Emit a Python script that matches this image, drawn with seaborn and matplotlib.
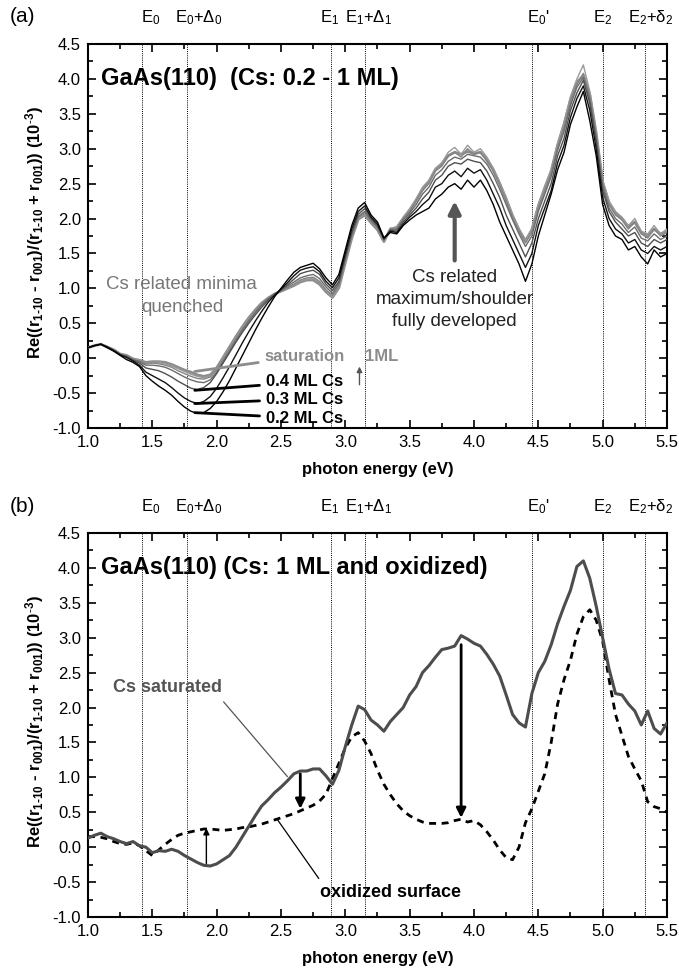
import matplotlib
matplotlib.use("Agg")
import matplotlib.pyplot as plt
import seaborn as sns
from matplotlib.ticker import MultipleLocator, FormatStrFormatter
from matplotlib.transforms import blended_transform_factory

sns.set_style("ticks")
plt.rcParams["font.family"] = ["Liberation Sans", "DejaVu Sans"]
plt.rcParams["mathtext.default"] = "regular"
plt.rcParams["axes.unicode_minus"] = False
plt.rcParams["text.color"] = "black"
plt.rcParams["axes.labelcolor"] = "black"

# photon energy grid (eV)
ENERGY = [
    1.00, 1.05, 1.10, 1.15, 1.20, 1.25, 1.30, 1.35, 1.40, 1.45, 1.50, 1.55, 1.60,
    1.65, 1.70, 1.75, 1.80, 1.85, 1.90, 1.95, 2.00, 2.05, 2.10, 2.15, 2.20, 2.25,
    2.30, 2.35, 2.40, 2.45, 2.50, 2.55, 2.60, 2.65, 2.70, 2.75, 2.80, 2.85, 2.90,
    2.95, 3.00, 3.05, 3.10, 3.15, 3.20, 3.25, 3.30, 3.35, 3.40, 3.45, 3.50, 3.55,
    3.60, 3.65, 3.70, 3.75, 3.80, 3.85, 3.90, 3.95, 4.00, 4.05, 4.10, 4.15, 4.20,
    4.25, 4.30, 4.35, 4.40, 4.45, 4.50, 4.55, 4.60, 4.65, 4.70, 4.75, 4.80, 4.85,
    4.90, 4.95, 5.00, 5.05, 5.10, 5.15, 5.20, 5.25, 5.30, 5.35, 5.40, 5.45, 5.50,
]

# (a) Cs coverage series, 0.2 ML -> saturation
CS_02 = [
    0.15, 0.18, 0.20, 0.15, 0.10, 0.04, -0.02, -0.06,
    -0.12, -0.25, -0.33, -0.40, -0.46, -0.53, -0.62, -0.70,
    -0.76, -0.79, -0.78, -0.72, -0.62, -0.48, -0.32, -0.14,
    0.04, 0.22, 0.40, 0.57, 0.73, 0.88, 1.00, 1.12,
    1.23, 1.30, 1.33, 1.36, 1.28, 1.15, 1.05, 1.20,
    1.55, 1.90, 2.15, 2.23, 2.05, 1.95, 1.72, 1.80,
    1.78, 1.90, 1.98, 2.05, 2.10, 2.15, 2.28, 2.35,
    2.45, 2.50, 2.42, 2.55, 2.45, 2.55, 2.40, 2.20,
    1.95, 1.75, 1.55, 1.35, 1.10, 1.35, 1.75, 2.05,
    2.35, 2.70, 2.95, 3.35, 3.60, 3.82, 3.40, 2.90,
    2.20, 1.90, 1.75, 1.70, 1.55, 1.60, 1.45, 1.35,
    1.55, 1.45, 1.50,
]
CS_03 = [
    0.15, 0.18, 0.20, 0.16, 0.11, 0.05, 0.01, -0.04,
    -0.10, -0.20, -0.25, -0.30, -0.35, -0.42, -0.50, -0.57,
    -0.62, -0.65, -0.62, -0.55, -0.43, -0.28, -0.12, 0.05,
    0.22, 0.38, 0.53, 0.67, 0.80, 0.90, 0.99, 1.08,
    1.18, 1.26, 1.29, 1.31, 1.24, 1.10, 1.01, 1.15,
    1.50, 1.85, 2.10, 2.18, 2.02, 1.92, 1.72, 1.82,
    1.80, 1.92, 2.02, 2.10, 2.20, 2.28, 2.45, 2.50,
    2.62, 2.68, 2.60, 2.72, 2.65, 2.70, 2.55, 2.35,
    2.15, 1.90, 1.70, 1.50, 1.30, 1.50, 1.90, 2.15,
    2.40, 2.80, 3.05, 3.45, 3.72, 3.90, 3.55, 3.00,
    2.30, 2.00, 1.85, 1.78, 1.65, 1.70, 1.55, 1.50,
    1.60, 1.55, 1.60,
]
CS_04 = [
    0.15, 0.18, 0.20, 0.16, 0.11, 0.05, 0.02, -0.03,
    -0.07, -0.14, -0.16, -0.18, -0.22, -0.27, -0.33, -0.38,
    -0.43, -0.45, -0.42, -0.35, -0.22, -0.07, 0.08, 0.23,
    0.37, 0.50, 0.62, 0.73, 0.83, 0.91, 0.98, 1.05,
    1.13, 1.21, 1.24, 1.26, 1.20, 1.06, 0.97, 1.10,
    1.45, 1.80, 2.06, 2.14, 2.00, 1.90, 1.70, 1.83,
    1.82, 1.95, 2.05, 2.15, 2.28, 2.38, 2.55, 2.62,
    2.75, 2.80, 2.78, 2.85, 2.82, 2.80, 2.68, 2.50,
    2.30, 2.05, 1.85, 1.65, 1.45, 1.65, 2.00, 2.25,
    2.50, 2.90, 3.15, 3.55, 3.80, 3.98, 3.65, 3.10,
    2.40, 2.10, 1.95, 1.85, 1.75, 1.80, 1.65, 1.60,
    1.70, 1.65, 1.70,
]
CS_06 = [
    0.15, 0.18, 0.20, 0.16, 0.11, 0.05, 0.03, -0.02,
    -0.05, -0.10, -0.10, -0.11, -0.13, -0.17, -0.22, -0.27,
    -0.31, -0.34, -0.35, -0.31, -0.20, -0.05, 0.10, 0.25,
    0.40, 0.53, 0.65, 0.76, 0.85, 0.92, 0.97, 1.03,
    1.09, 1.15, 1.18, 1.20, 1.14, 1.02, 0.93, 1.07,
    1.42, 1.77, 2.03, 2.10, 1.98, 1.88, 1.70, 1.84,
    1.84, 1.98, 2.08, 2.20, 2.35, 2.45, 2.62, 2.70,
    2.82, 2.88, 2.85, 2.92, 2.90, 2.88, 2.78, 2.62,
    2.42, 2.20, 1.98, 1.78, 1.60, 1.75, 2.10, 2.35,
    2.60, 2.98, 3.25, 3.62, 3.88, 4.02, 3.70, 3.15,
    2.45, 2.15, 2.00, 1.92, 1.80, 1.88, 1.72, 1.68,
    1.78, 1.70, 1.75,
]
CS_08 = [
    0.15, 0.18, 0.20, 0.16, 0.12, 0.06, 0.03, -0.02,
    -0.04, -0.08, -0.07, -0.08, -0.10, -0.13, -0.18, -0.22,
    -0.26, -0.29, -0.30, -0.27, -0.17, -0.02, 0.13, 0.28,
    0.42, 0.55, 0.67, 0.77, 0.86, 0.92, 0.96, 1.01,
    1.06, 1.12, 1.15, 1.16, 1.10, 0.98, 0.90, 1.04,
    1.40, 1.75, 2.01, 2.08, 1.96, 1.86, 1.68, 1.85,
    1.86, 2.00, 2.10, 2.25, 2.40, 2.50, 2.68, 2.75,
    2.90, 2.95, 2.88, 3.00, 2.92, 2.95, 2.82, 2.68,
    2.48, 2.25, 2.02, 1.82, 1.65, 1.80, 2.15, 2.40,
    2.65, 3.02, 3.30, 3.68, 3.92, 4.08, 3.75, 3.20,
    2.50, 2.20, 2.05, 1.98, 1.85, 1.95, 1.78, 1.72,
    1.85, 1.75, 1.80,
]
CS_10 = [
    0.15, 0.18, 0.20, 0.16, 0.12, 0.06, 0.04, -0.01,
    -0.03, -0.07, -0.06, -0.06, -0.08, -0.11, -0.15, -0.19,
    -0.23, -0.26, -0.28, -0.25, -0.15, 0.00, 0.15, 0.30,
    0.44, 0.57, 0.68, 0.78, 0.86, 0.92, 0.96, 1.00,
    1.05, 1.10, 1.13, 1.14, 1.08, 0.96, 0.88, 1.02,
    1.38, 1.73, 2.00, 2.06, 1.95, 1.85, 1.67, 1.86,
    1.88, 2.02, 2.14, 2.28, 2.45, 2.55, 2.72, 2.80,
    2.95, 3.02, 2.92, 3.05, 2.95, 3.00, 2.88, 2.72,
    2.52, 2.30, 2.05, 1.85, 1.68, 1.85, 2.20, 2.45,
    2.70, 3.08, 3.38, 3.75, 4.00, 4.20, 3.82, 3.25,
    2.55, 2.25, 2.10, 2.02, 1.90, 2.00, 1.82, 1.78,
    1.90, 1.78, 1.85,
]
CS_SAT = [
    0.15, 0.18, 0.20, 0.16, 0.12, 0.06, 0.04, -0.01,
    -0.03, -0.06, -0.05, -0.05, -0.06, -0.09, -0.13, -0.17,
    -0.20, -0.24, -0.26, -0.24, -0.14, 0.01, 0.16, 0.31,
    0.45, 0.58, 0.69, 0.79, 0.86, 0.92, 0.96, 1.00,
    1.04, 1.09, 1.12, 1.12, 1.06, 0.95, 0.87, 1.01,
    1.37, 1.72, 1.99, 2.05, 1.94, 1.84, 1.67, 1.85,
    1.87, 2.00, 2.12, 2.26, 2.42, 2.53, 2.70, 2.78,
    2.90, 2.95, 2.92, 2.96, 2.93, 2.95, 2.85, 2.70,
    2.50, 2.28, 2.04, 1.84, 1.68, 1.84, 2.18, 2.44,
    2.68, 3.05, 3.35, 3.70, 3.95, 4.05, 3.78, 3.22,
    2.52, 2.22, 2.08, 2.00, 1.88, 1.95, 1.80, 1.75,
    1.85, 1.78, 1.82,
]

# (b) Cs saturated vs. oxidized surface
SATURATED = [
    0.13, 0.17, 0.20, 0.15, 0.12, 0.08, 0.05, 0.08,
    0.02, 0.00, -0.08, -0.05, -0.06, -0.03, -0.06, -0.12,
    -0.17, -0.22, -0.26, -0.27, -0.24, -0.18, -0.12, 0.00,
    0.15, 0.30, 0.45, 0.59, 0.68, 0.78, 0.86, 0.95,
    1.05, 1.09, 1.09, 1.12, 1.12, 1.02, 0.90, 1.10,
    1.44, 1.75, 2.02, 1.97, 1.82, 1.75, 1.66, 1.80,
    1.90, 2.00, 2.18, 2.30, 2.50, 2.60, 2.72, 2.83,
    2.85, 2.88, 3.03, 2.98, 2.92, 2.88, 2.76, 2.62,
    2.45, 2.18, 1.90, 1.78, 1.72, 2.20, 2.50, 2.66,
    2.90, 3.20, 3.45, 3.68, 4.02, 4.10, 3.85, 3.45,
    3.00, 2.55, 2.20, 2.18, 2.05, 1.95, 1.75, 1.95,
    1.70, 1.62, 1.78,
]
OXIDIZED = [
    0.15, 0.15, 0.14, 0.12, 0.08, 0.05, 0.04, 0.06,
    0.02, -0.05, -0.12, -0.04, 0.04, 0.11, 0.17, 0.20,
    0.22, 0.24, 0.26, 0.26, 0.25, 0.24, 0.25, 0.26,
    0.28, 0.29, 0.31, 0.33, 0.36, 0.39, 0.42, 0.45,
    0.48, 0.52, 0.56, 0.60, 0.66, 0.76, 0.98, 1.20,
    1.42, 1.58, 1.64, 1.52, 1.34, 1.10, 0.90, 0.75,
    0.62, 0.52, 0.45, 0.40, 0.36, 0.34, 0.34, 0.34,
    0.35, 0.38, 0.40, 0.36, 0.38, 0.32, 0.22, 0.10,
    -0.04, -0.15, -0.18, 0.00, 0.35, 0.55, 0.80, 1.05,
    1.50, 2.05, 2.40, 2.68, 3.05, 3.30, 3.40, 3.25,
    2.95, 2.40, 1.90, 1.60, 1.30, 1.12, 0.95, 0.65,
    0.58, 0.55, 0.50,
]

# critical point energies
E_LINES = [1.42, 1.77, 2.89, 3.15, 4.45, 5.00, 5.33]
E_LABELS = ["E$_0$", "E$_0$+Δ$_0$", "E$_1$", "E$_1$+Δ$_1$", "E$_0$'", "E$_2$", "E$_2$+δ$_2$"]

YLABEL = ("Re((r$_{1\u201010}$ - r$_{001}$)/(r$_{1\u201010}$ + r$_{001}$)) (10$^{\u20113}$)")


def style_axes(ax):
    ax.set_xlim(1.0, 5.5)
    ax.set_ylim(-1.0, 4.5)
    ax.xaxis.set_major_locator(MultipleLocator(0.5))
    ax.xaxis.set_minor_locator(MultipleLocator(0.25))
    ax.yaxis.set_major_locator(MultipleLocator(0.5))
    ax.yaxis.set_minor_locator(MultipleLocator(0.25))
    ax.xaxis.set_major_formatter(FormatStrFormatter("%.1f"))
    ax.yaxis.set_major_formatter(FormatStrFormatter("%.1f"))
    ax.tick_params(which="both", direction="in", top=True, right=True,
                   width=1.2, labelsize=12, pad=5, colors="black")
    ax.tick_params(which="major", length=6)
    ax.tick_params(which="minor", length=3.5)
    for sp in ax.spines.values():
        sp.set_linewidth(1.5)
        sp.set_color("black")
    shifts = [0.07, 0.09, -0.01, 0.03, 0.05, 0.0, 0.04]
    trans = blended_transform_factory(ax.transData, ax.transAxes)
    for e, lab, dx in zip(E_LINES, E_LABELS, shifts):
        ax.axvline(e, color="black", ls=(0, (1, 1.2)), lw=0.7, zorder=1)
        ax.text(e + dx, 1.068, lab, transform=trans, ha="center", va="center",
                fontsize=12)
    ax.set_xlabel("photon energy (eV)", fontweight="bold", fontsize=12, labelpad=9)
    ax.set_ylabel(YLABEL, fontweight="bold", fontsize=12)
    ax.yaxis.set_label_coords(-0.072, 0.51)


fig = plt.figure(figsize=(6.79, 9.69), dpi=100)
ax_a = fig.add_axes([0.1296, 0.5583, 0.8527, 0.3963])
ax_b = fig.add_axes([0.1296, 0.0537, 0.8527, 0.3963])

# ---- panel (a)
series_a = [
    (CS_SAT, "#8c8c8c", 2.0),
    (CS_10, "#9a9a9a", 1.0),
    (CS_08, "#858585", 1.0),
    (CS_06, "#6c6c6c", 1.0),
    (CS_04, "#505050", 1.0),
    (CS_03, "#111111", 1.0),
    (CS_02, "#000000", 1.0),
]
for vals, col, lw in series_a:
    sns.lineplot(x=ENERGY, y=vals, ax=ax_a, color=col, linewidth=lw,
                 estimator=None, sort=False, zorder=3)

style_axes(ax_a)
ax_a.text(1.1, 4.0, "GaAs(110)  (Cs: 0.2 - 1 ML)", fontsize=17,
          fontweight="bold", va="center", ha="left")
ax_a.text(1.73, 1.06, "Cs related minima", fontsize=13.5, color="#777777",
          ha="center", va="center")
ax_a.text(1.73, 0.73, "quenched", fontsize=13.5, color="#777777",
          ha="center", va="center")
ax_a.text(3.85, 1.16, "Cs related", fontsize=13.5, color="#222222",
          ha="center", va="center")
ax_a.text(3.85, 0.84, "maximum/shoulder", fontsize=13.5, color="#222222",
          ha="center", va="center")
ax_a.text(3.85, 0.52, "fully developed", fontsize=13.5, color="#222222",
          ha="center", va="center")
ax_a.annotate("", xy=(3.85, 2.25), xytext=(3.85, 1.40),
              arrowprops=dict(arrowstyle="-|>", color="#555555", lw=3,
                              mutation_scale=18, shrinkA=0, shrinkB=0))

for label, tip, txt in [("0.4 ML Cs", (1.83, -0.46), (2.38, -0.34)),
                        ("0.3 ML Cs", (1.83, -0.65), (2.38, -0.585)),
                        ("0.2 ML Cs", (1.83, -0.78), (2.38, -0.86))]:
    ax_a.annotate(label, xy=tip, xytext=txt, fontsize=12, fontweight="bold",
                  va="center", ha="left",
                  arrowprops=dict(arrowstyle="-", color="black", lw=2,
                                  shrinkA=2, shrinkB=0))
ax_a.annotate("saturation", xy=(1.83, -0.19), xytext=(2.37, 0.03),
              fontsize=12, fontweight="bold", color="#8c8c8c",
              va="center", ha="left",
              arrowprops=dict(arrowstyle="-", color="#8c8c8c", lw=2,
                              shrinkA=2, shrinkB=0))
ax_a.text(3.15, 0.03, "1ML", fontsize=12, fontweight="bold",
          color="#8c8c8c", va="center", ha="left")
ax_a.annotate("", xy=(3.11, -0.12), xytext=(3.11, -0.38),
              arrowprops=dict(arrowstyle="-|>", color="#555555", lw=1,
                              mutation_scale=8, shrinkA=0, shrinkB=0))

# ---- panel (b)
sns.lineplot(x=ENERGY, y=OXIDIZED, ax=ax_b, color="black", linewidth=2,
             linestyle=(0, (2.5, 2)), estimator=None, sort=False, zorder=3)
sns.lineplot(x=ENERGY, y=SATURATED, ax=ax_b, color="#4d4d4d", linewidth=2.2,
             estimator=None, sort=False, zorder=4)
style_axes(ax_b)
ax_b.text(1.1, 4.0, "GaAs(110) (Cs: 1 ML and oxidized)", fontsize=17,
          fontweight="bold", va="center", ha="left")
ax_b.annotate("Cs saturated", xy=(2.55, 1.01), xytext=(1.62, 2.28),
              fontsize=13, fontweight="bold", color="#555555",
              ha="center", va="center",
              arrowprops=dict(arrowstyle="-", color="#555555", lw=0.9,
                              relpos=(0.97, 0.0), shrinkA=2, shrinkB=0))
ax_b.annotate("oxidized surface", xy=(2.47, 0.40), xytext=(3.35, -0.65),
              fontsize=13, fontweight="bold", color="black",
              ha="center", va="center",
              arrowprops=dict(arrowstyle="-", color="black", lw=0.9,
                              relpos=(0.02, 1.0), shrinkA=2, shrinkB=0))
ax_b.annotate("", xy=(1.92, 0.27), xytext=(1.92, -0.26),
              arrowprops=dict(arrowstyle="-|>", color="black", lw=1,
                              mutation_scale=9, shrinkA=0, shrinkB=0))
ax_b.annotate("", xy=(2.65, 0.55), xytext=(2.65, 1.05),
              arrowprops=dict(arrowstyle="-|>", color="black", lw=2,
                              mutation_scale=14, shrinkA=0, shrinkB=0))
ax_b.annotate("", xy=(3.9, 0.42), xytext=(3.9, 2.90),
              arrowprops=dict(arrowstyle="-|>", color="black", lw=2,
                              mutation_scale=14, shrinkA=0, shrinkB=0))

fig.text(10 / 679, 1 - 17 / 969, "(a)", fontsize=15, va="center", ha="left")
fig.text(10 / 679, 1 - 507 / 969, "(b)", fontsize=15, va="center", ha="left")

fig.savefig("out.png", dpi=100)
